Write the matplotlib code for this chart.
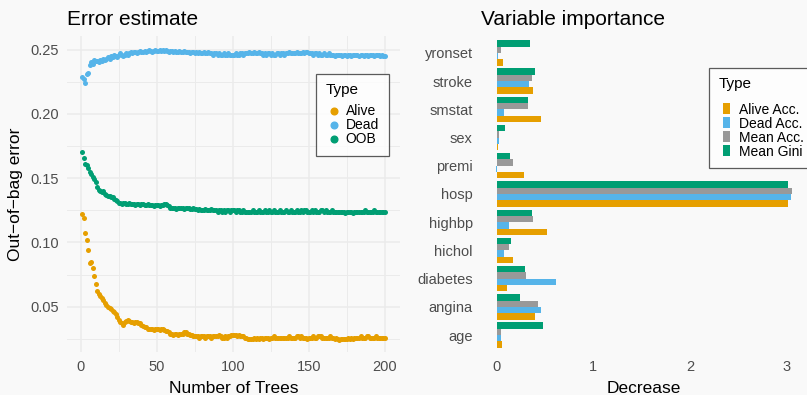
import matplotlib
matplotlib.use("Agg")
import matplotlib.pyplot as plt
from matplotlib.lines import Line2D
from matplotlib.patches import Patch, Rectangle
from matplotlib.legend_handler import HandlerPatch
import numpy as np

plt.rcParams['font.family'] = ['Liberation Sans', 'DejaVu Sans']

# ---- error estimate data (trees 1..200) ----
trees = list(range(1, 201))

err_alive = [
    0.122, 0.119, 0.107, 0.102, 0.094, 0.084, 0.085, 0.080, 0.074, 0.068,
    0.062, 0.060, 0.058, 0.057, 0.055, 0.053, 0.051, 0.050, 0.049, 0.048,
    0.047, 0.046, 0.044, 0.042, 0.040, 0.038, 0.037, 0.036, 0.038, 0.039,
    0.040, 0.039, 0.038, 0.038, 0.037, 0.038, 0.038, 0.037, 0.037, 0.036,
    0.035, 0.034, 0.034, 0.033, 0.033, 0.033, 0.033, 0.032, 0.033, 0.033,
    0.033, 0.032, 0.033, 0.033, 0.032, 0.031, 0.031, 0.030, 0.029, 0.029,
    0.028, 0.029, 0.029, 0.028, 0.029, 0.029, 0.029, 0.030, 0.030, 0.029,
    0.029, 0.028, 0.028, 0.027, 0.027, 0.027, 0.027, 0.026, 0.027, 0.027,
    0.027, 0.026, 0.027, 0.027, 0.027, 0.026, 0.027, 0.027, 0.027, 0.027,
    0.028, 0.027, 0.026, 0.026, 0.027, 0.026, 0.027, 0.027, 0.028, 0.028,
    0.028, 0.028, 0.027, 0.028, 0.027, 0.027, 0.027, 0.026, 0.026, 0.025,
    0.025, 0.025, 0.025, 0.026, 0.025, 0.026, 0.025, 0.026, 0.026, 0.025,
    0.026, 0.026, 0.026, 0.025, 0.026, 0.026, 0.027, 0.026, 0.026, 0.026,
    0.026, 0.026, 0.026, 0.026, 0.026, 0.026, 0.027, 0.026, 0.026, 0.026,
    0.026, 0.027, 0.027, 0.026, 0.027, 0.026, 0.026, 0.026, 0.025, 0.026,
    0.026, 0.026, 0.027, 0.026, 0.026, 0.027, 0.027, 0.027, 0.026, 0.026,
    0.026, 0.026, 0.026, 0.027, 0.026, 0.026, 0.025, 0.026, 0.025, 0.024,
    0.025, 0.025, 0.025, 0.025, 0.025, 0.026, 0.025, 0.026, 0.025, 0.026,
    0.026, 0.026, 0.026, 0.027, 0.026, 0.026, 0.026, 0.027, 0.027, 0.026,
    0.026, 0.026, 0.026, 0.027, 0.026, 0.026, 0.026, 0.026, 0.026, 0.026,
]

err_dead = [
    0.229, 0.227, 0.224, 0.231, 0.232, 0.238, 0.240, 0.239, 0.242, 0.241,
    0.241, 0.240, 0.242, 0.241, 0.243, 0.242, 0.243, 0.244, 0.243, 0.245,
    0.244, 0.246, 0.245, 0.244, 0.246, 0.247, 0.246, 0.245, 0.246, 0.247,
    0.246, 0.247, 0.248, 0.247, 0.248, 0.248, 0.247, 0.248, 0.249, 0.248,
    0.248, 0.249, 0.248, 0.249, 0.250, 0.249, 0.248, 0.249, 0.250, 0.249,
    0.249, 0.250, 0.249, 0.250, 0.249, 0.250, 0.249, 0.248, 0.249, 0.249,
    0.248, 0.249, 0.248, 0.248, 0.249, 0.248, 0.248, 0.249, 0.248, 0.248,
    0.248, 0.247, 0.248, 0.248, 0.247, 0.248, 0.247, 0.248, 0.247, 0.247,
    0.248, 0.247, 0.247, 0.248, 0.247, 0.247, 0.246, 0.247, 0.247, 0.246,
    0.247, 0.246, 0.246, 0.247, 0.246, 0.246, 0.247, 0.246, 0.246, 0.246,
    0.246, 0.247, 0.246, 0.246, 0.247, 0.247, 0.246, 0.247, 0.247, 0.247,
    0.248, 0.247, 0.247, 0.248, 0.247, 0.247, 0.248, 0.247, 0.247, 0.246,
    0.247, 0.246, 0.247, 0.247, 0.246, 0.247, 0.246, 0.246, 0.247, 0.247,
    0.246, 0.247, 0.247, 0.246, 0.247, 0.247, 0.248, 0.247, 0.247, 0.247,
    0.247, 0.248, 0.247, 0.247, 0.247, 0.248, 0.247, 0.248, 0.248, 0.247,
    0.247, 0.247, 0.246, 0.247, 0.247, 0.246, 0.247, 0.246, 0.246, 0.247,
    0.246, 0.246, 0.247, 0.246, 0.246, 0.246, 0.245, 0.246, 0.246, 0.246,
    0.246, 0.245, 0.246, 0.246, 0.245, 0.246, 0.246, 0.245, 0.246, 0.246,
    0.246, 0.246, 0.245, 0.246, 0.246, 0.245, 0.246, 0.246, 0.245, 0.246,
    0.246, 0.246, 0.245, 0.246, 0.246, 0.246, 0.245, 0.246, 0.245, 0.245,
]

err_oob = [
    0.170, 0.166, 0.161, 0.160, 0.158, 0.155, 0.153, 0.151, 0.149, 0.147,
    0.143, 0.141, 0.140, 0.139, 0.140, 0.138, 0.137, 0.136, 0.136, 0.135,
    0.135, 0.134, 0.133, 0.132, 0.131, 0.131, 0.130, 0.131, 0.131, 0.130,
    0.130, 0.131, 0.130, 0.130, 0.130, 0.129, 0.130, 0.130, 0.129, 0.130,
    0.130, 0.129, 0.129, 0.130, 0.129, 0.129, 0.129, 0.128, 0.129, 0.129,
    0.129, 0.128, 0.129, 0.129, 0.130, 0.130, 0.129, 0.128, 0.127, 0.127,
    0.127, 0.127, 0.126, 0.127, 0.127, 0.127, 0.127, 0.126, 0.127, 0.127,
    0.127, 0.126, 0.126, 0.127, 0.126, 0.126, 0.125, 0.126, 0.125, 0.125,
    0.125, 0.126, 0.125, 0.125, 0.125, 0.126, 0.125, 0.125, 0.125, 0.124,
    0.125, 0.125, 0.124, 0.125, 0.124, 0.125, 0.125, 0.124, 0.125, 0.125,
    0.125, 0.124, 0.125, 0.125, 0.124, 0.124, 0.125, 0.124, 0.124, 0.124,
    0.124, 0.124, 0.125, 0.124, 0.124, 0.124, 0.125, 0.124, 0.124, 0.124,
    0.125, 0.124, 0.124, 0.125, 0.124, 0.124, 0.125, 0.124, 0.124, 0.124,
    0.125, 0.124, 0.124, 0.124, 0.125, 0.124, 0.124, 0.125, 0.124, 0.124,
    0.124, 0.125, 0.124, 0.124, 0.125, 0.124, 0.125, 0.125, 0.124, 0.124,
    0.124, 0.125, 0.124, 0.125, 0.124, 0.124, 0.124, 0.125, 0.125, 0.124,
    0.125, 0.124, 0.124, 0.124, 0.125, 0.124, 0.124, 0.124, 0.124, 0.124,
    0.124, 0.124, 0.124, 0.123, 0.124, 0.124, 0.124, 0.124, 0.123, 0.124,
    0.124, 0.124, 0.124, 0.124, 0.124, 0.124, 0.125, 0.124, 0.124, 0.124,
    0.124, 0.124, 0.125, 0.124, 0.124, 0.124, 0.124, 0.124, 0.124, 0.124,
]

# ---- variable importance data ----
variables = ['age', 'angina', 'diabetes', 'hichol', 'highbp', 'hosp',
             'premi', 'sex', 'smstat', 'stroke', 'yronset']
alive_acc = [0.05, 0.40, 0.11, 0.17, 0.52, 3.01, 0.28, 0.01, 0.46, 0.37, 0.06]
dead_acc = [0.04, 0.46, 0.61, 0.07, 0.13, 3.04, -0.01, 0.02, 0.08, 0.33, 0.01]
mean_acc = [0.04, 0.43, 0.30, 0.13, 0.38, 3.05, 0.17, 0.02, 0.32, 0.36, 0.04]
mean_gini = [0.48, 0.24, 0.29, 0.15, 0.36, 3.01, 0.14, 0.09, 0.32, 0.40, 0.34]

ORANGE, BLUE, GREEN, GREY = '#E69F00', '#56B4E9', '#009E73', '#999999'
BG = '#F9F9F9'
GRID = '#EBEBEB'
TXT = '#4D4D4D'

W, H = 807, 395
fig = plt.figure(figsize=(W / 100, H / 100), dpi=100, facecolor=BG)


def px_box(x0, y0, x1, y1):
    # pixel rect (top-left origin) -> figure fraction rect
    return [x0 / W, 1 - y1 / H, (x1 - x0) / W, (y1 - y0) / H]


def small_key(legend, orig_handle, xdescent, ydescent, width, height, fontsize):
    # ggplot-like fill key: narrow rectangle centred in the key box (points)
    kw, kh = 5.0, 7.9
    return Rectangle((-xdescent + (width - kw) / 2, -ydescent + (height - kh) / 2), kw, kh)


def make_legend(handles, anchor, title_gap, **kw):
    leg = fig.legend(handles=handles, title='Type', loc='upper left',
                     bbox_to_anchor=(anchor[0] / W, 1 - anchor[1] / H), borderaxespad=0,
                     frameon=True, fancybox=False, fontsize=10, title_fontsize=11,
                     handlelength=1.22, handleheight=0.7, handletextpad=0.25,
                     labelspacing=0.0, borderpad=0.68, alignment='left', **kw)
    fr = leg.get_frame()
    fr.set_edgecolor('#333333')
    fr.set_linewidth(0.9)
    fr.set_facecolor('white')
    leg._legend_box.sep = title_gap
    return leg


# ---------------- left: error estimate ----------------
ax1 = fig.add_axes(px_box(67, 36, 400, 352))
ax1.set_facecolor(BG)
for name, vals, col in [('Alive', err_alive, ORANGE), ('Dead', err_dead, BLUE), ('OOB', err_oob, GREEN)]:
    ax1.scatter(trees, vals, s=13, color=col, linewidths=0, zorder=3)

ax1.set_xlim(-8.95, 209.95)
ax1.set_ylim(0.0148, 0.2605)
ax1.set_xticks([0, 50, 100, 150, 200])
ax1.set_yticks([0.05, 0.10, 0.15, 0.20, 0.25])
ax1.set_yticklabels(['0.05', '0.10', '0.15', '0.20', '0.25'])
ax1.set_xticks([25, 75, 125, 175], minor=True)
ax1.set_yticks([0.025, 0.075, 0.125, 0.175, 0.225], minor=True)
ax1.grid(True, which='major', color=GRID, lw=1.1, zorder=0)
ax1.grid(True, which='minor', color=GRID, lw=0.7, zorder=0)
ax1.set_axisbelow(True)
for s in ax1.spines.values():
    s.set_visible(False)
ax1.tick_params(which='both', length=0, labelsize=10.5, labelcolor=TXT, pad=6)
ax1.set_xlabel('Number of Trees', fontsize=12.5, color='black', labelpad=5)
ax1.set_ylabel('Out\u2212of\u2212bag error', fontsize=12.5, color='black', labelpad=5)
ax1.set_title('Error estimate', loc='left', fontsize=15, pad=8)

h1 = [Line2D([], [], marker='o', ls='', color=c, markersize=4.8, label=l)
      for l, c in [('Alive', ORANGE), ('Dead', BLUE), ('OOB', GREEN)]]
make_legend(h1, (316, 74), 5)

# ---------------- right: variable importance ----------------
ax2 = fig.add_axes(px_box(481, 36, 806, 352))
ax2.set_facecolor(BG)
y = np.arange(1, len(variables) + 1)
bh = 0.225
series = [(alive_acc, ORANGE), (dead_acc, BLUE), (mean_acc, GREY), (mean_gini, GREEN)]
for i, (vals, col) in enumerate(series):
    ax2.barh(y + (i - 1.5) * bh, vals, height=bh, color=col, linewidth=0)

ax2.set_xlim(-0.163, 3.2)
ax2.set_ylim(0.4, 11.6)
ax2.set_xticks([0, 1, 2, 3])
ax2.set_yticks(y)
ax2.set_yticklabels(variables)
for s in ax2.spines.values():
    s.set_visible(False)
ax2.tick_params(axis='y', length=0, labelsize=10.5, labelcolor=TXT, pad=6)
ax2.tick_params(axis='x', length=0, labelsize=10.5, labelcolor=TXT, pad=6)
ax2.set_xlabel('Decrease', fontsize=12.5, color='black', labelpad=5)
ax2.set_title('Variable importance', loc='left', fontsize=15, pad=8)

h2 = [Patch(facecolor=c, edgecolor='none', label=l)
      for l, c in [('Alive Acc.', ORANGE), ('Dead Acc.', BLUE), ('Mean Acc.', GREY), ('Mean Gini', GREEN)]]
make_legend(h2, (709, 68), 8, handler_map={Patch: HandlerPatch(patch_func=small_key)})

fig.savefig('out.png', dpi=100, facecolor=BG)
